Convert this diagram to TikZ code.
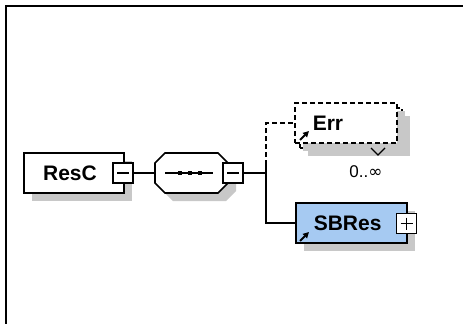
\documentclass[tikz,border=0pt]{standalone}
\usepackage{fontspec}
\setmainfont{Liberation Sans}
\newfontfamily\symfont{DejaVu Sans}
\usetikzlibrary{shadows,arrows.meta}
\definecolor{sbblue}{RGB}{166,202,242}
\definecolor{shadowgray}{RGB}{200,200,200}
\begin{document}
\begin{tikzpicture}[x=1pt, y=-1pt, line width=1.6,
          font=\fontsize{21}{24}\selectfont\bfseries,
          shade/.style={drop shadow={shadow xshift=8, shadow yshift=8, fill=shadowgray, opacity=1}},
          elem/.style={draw, fill=white, shade, minimum width=100, minimum height=40, inner sep=0},
          multi/.style={elem, dash pattern=on 5 off 3, minimum width=102},
          pmbox/.style={draw, fill=white, minimum size=20, inner sep=0},
          minusbox/.style={pmbox, path picture={
                      \draw ([xshift=4]path picture bounding box.west) -- ([xshift=-4]path picture bounding box.east);}},
          plusbox/.style={pmbox, path picture={
                      \draw ([xshift=4]path picture bounding box.west) -- ([xshift=-4]path picture bounding box.east);
                      \draw ([yshift=-4]path picture bounding box.north) -- ([yshift=4]path picture bounding box.south);}},
          ref/.style={-{Triangle[length=6, width=6]}, line width=2},
          lbl/.style={inner sep=0}]
        \useasboundingbox (0,0) rectangle (464,324);
        \draw[line width=2] (6,324) -- (6,6) -- (463,6);
        % ResC
        \node[elem] (resc) at (74,173) {};
        \node[lbl] at (70,173) {ResC};
        \node[minusbox] (rescpm) at (123,173) {};
        % sequence
        \filldraw[fill=white, shade] (165,153) -- (218,153) -- (228,163) -- (228,183) -- (218,193)
          -- (165,193) -- (155,183) -- (155,163) -- cycle;
        \coordinate (seq) at (155,173);
        \draw[line width=1.3] (165,173) -- (213,173);
        \foreach \x in {180,190,200}
          \fill (\x-2.3,170.7) rectangle (\x+2.3,175.3);
        \node[minusbox] (seqpm) at (233,173) {};
        \draw (rescpm.east) -- (seq);
        \coordinate (j) at (266,173);
        \draw (seqpm.east) -- (j);
        % Err
        \node[multi] (errback) at (351,128) {};
        \node[multi, drop shadow={opacity=0}] (err) at (346,123) {};
        \draw[line width=1.2] (371,148) -- (378,155) -- (385,148);
        \node[lbl, anchor=west] at (312,123) {Err};
        \draw[ref] (300,140) -- (309,131);
        \node[lbl, font=\fontsize{17}{20}\selectfont] at (366,172) {0..{\symfont ∞}};
        % SBRes
        \node[elem, fill=sbblue, minimum width=111] (sbres) at (351.5,223) {};
        \node[lbl, anchor=west] at (313,223) {SBRes};
        \draw[ref] (300,241) -- (309,232);
        \node[plusbox] (sbrespm) at (406.5,223.5) {};
        % connectors
        \draw[dash pattern=on 5 off 3] (j) |- (err.west);
        \draw (j) |- (sbres.west);
        \draw (266,163) -- (266,183);
      \end{tikzpicture}
\end{document}
